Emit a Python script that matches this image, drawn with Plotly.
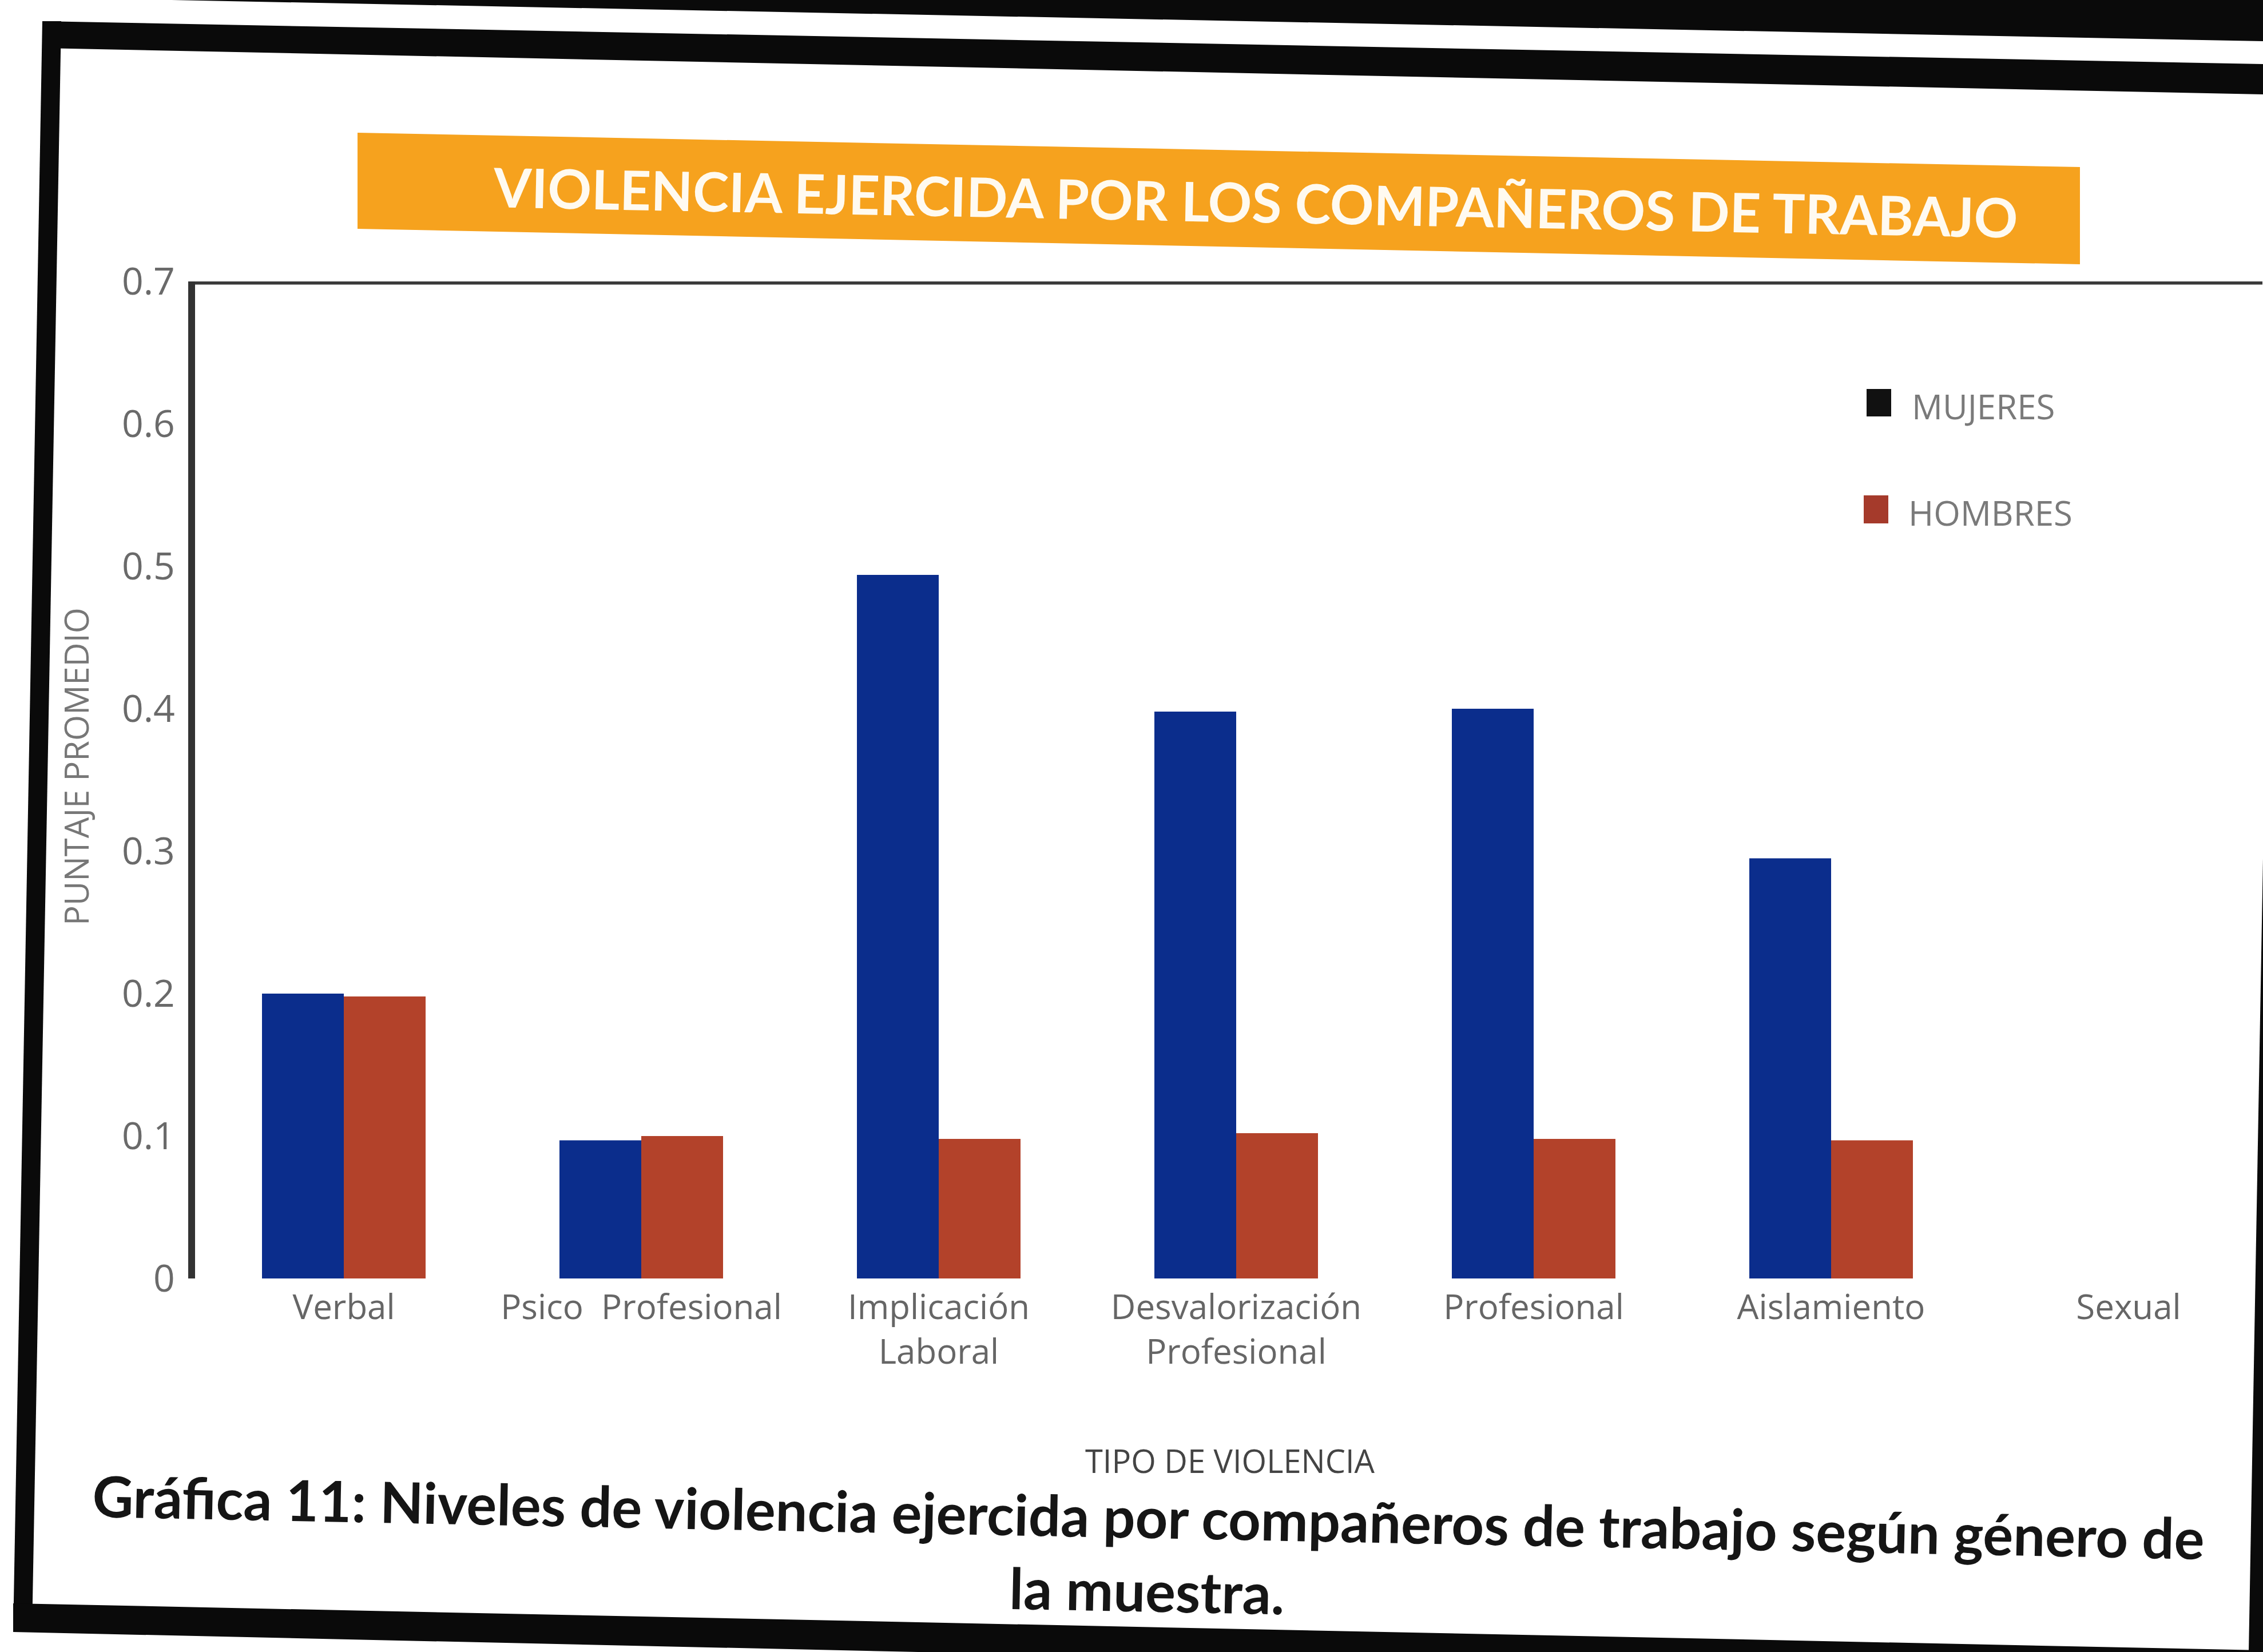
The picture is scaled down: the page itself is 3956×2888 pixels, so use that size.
import plotly.graph_objects as go

# ---- data -------------------------------------------------------------
categorias = [
    "Verbal",
    "Psico  Profesional",
    "Implicación<br>Laboral",
    "Desvalorización<br>Profesional",
    "Profesional",
    "Aislamiento",
    "Sexual",
]
mujeres = [0.200, 0.097, 0.494, 0.398, 0.400, 0.295, None]
hombres = [0.198, 0.100, 0.098, 0.102, 0.098, 0.097, None]

y_ticks = [0, 0.1, 0.2, 0.3, 0.4, 0.5, 0.6, 0.7]
y_tick_text = ["0", "0.1", "0.2", "0.3", "0.4", "0.5", "0.6", "0.7"]

titulo = "VIOLENCIA EJERCIDA POR LOS COMPAÑEROS DE TRABAJO"
eje_x = "TIPO DE VIOLENCIA"
eje_y = "PUNTAJE PROMEDIO"
leyenda = ["MUJERES", "HOMBRES"]
pie = ("Gráfica 11: Niveles de violencia ejercida por compañeros de trabajo según género de"
       "<br>la muestra.")

# ---- page geometry (pixels) -----------------------------------------
W, H = 3956, 2888
L, T = 341, 492           # left / top of plot area
PW, PH = 3614, 1743       # plot area size

BLUE = "#0b2d8c"
RED = "#b3422a"
ORANGE = "#f6a21e"


def px(x):
    return (x - L) / PW


def py(y):
    return (T + PH - y) / PH


def poly(points):
    return "M " + " L ".join(f"{px(x):.5f},{py(y):.5f}" for x, y in points) + " Z"


def label(text, x, y, size, color, family="Open Sans", xanchor="center", angle=0):
    return dict(text=text, x=px(x), y=py(y), xref="paper", yref="paper",
                xanchor=xanchor, yanchor="middle", showarrow=False,
                textangle=angle, font=dict(family=family, size=size, color=color))


fig = go.Figure()
fig.add_bar(x=categorias, y=mujeres, name=leyenda[0], marker_color=BLUE,
            marker_line_width=0, showlegend=False)
fig.add_bar(x=categorias, y=hombres, name=leyenda[1], marker_color=RED,
            marker_line_width=0, showlegend=False)

shapes = []
# outer page frame
frame = [
    [(300, 0), (3956, 0), (3956, 72)],
    [(74, 37), (3956, 112), (3956, 165), (74, 84)],
    [(74, 37), (107, 37), (56, 2853), (23, 2853)],
    [(23, 2803), (3956, 2885), (3956, 2940), (23, 2853)],
    [(3931, 2888), (3964, 2888), (3989, 1500), (3956, 1500)],
]
for pts in frame:
    shapes.append(dict(type="path", xref="paper", yref="paper", path=poly(pts),
                       fillcolor="#0a0a0a", line=dict(width=0), layer="above"))

# orange title band
shapes.append(dict(type="path", xref="paper", yref="paper",
                   path=poly([(625, 232), (3636, 292), (3636, 462), (625, 400)]),
                   fillcolor=ORANGE, line=dict(width=0), layer="below"))

# top border of the plot area
shapes.append(dict(type="line", xref="paper", yref="y", x0=0, x1=1, y0=0.7, y1=0.7,
                   line=dict(color="#3a3a3a", width=11)))

# legend swatches
shapes.append(dict(type="rect", xref="paper", yref="paper",
                   x0=px(3263), x1=px(3306), y0=py(728), y1=py(680),
                   fillcolor="#111111", line=dict(width=0)))
shapes.append(dict(type="rect", xref="paper", yref="paper",
                   x0=px(3258), x1=px(3301), y0=py(915), y1=py(866),
                   fillcolor="#a53a2b", line=dict(width=0)))

annotations = [
    label(f"<b>{titulo}</b>", 2195, 352, 95, "#fffaf0", family="Lato", angle=1.15),
    label(eje_y, 132, 1340, 58, "#777777", angle=-90),
    label(eje_x, 2150, 2553, 56, "#444444"),
    label(f"<b>{pie}</b>", 2006, 2715, 99, "#151515", family="Lato", angle=1.15),
    label(leyenda[0], 3340, 710, 60, "#7a7a7a", xanchor="left"),
    label(leyenda[1], 3334, 896, 60, "#7a7a7a", xanchor="left"),
]

fig.update_layout(
    width=W, height=H,
    margin=dict(l=L, r=W - L - PW, t=T, b=H - T - PH, pad=0),
    paper_bgcolor="white", plot_bgcolor="white",
    barmode="group", bargap=0.45, bargroupgap=0,
    shapes=shapes, annotations=annotations,
    showlegend=False,
)
fig.update_xaxes(
    range=[-0.5, 6.45], showline=False, showgrid=False, zeroline=False,
    ticks="", ticklabelstandoff=10,
    tickfont=dict(family="Open Sans", size=60, color="#666666"),
)
fig.update_yaxes(
    range=[0, 0.7], tickvals=y_ticks, ticktext=y_tick_text,
    showline=True, linecolor="#333333", linewidth=12,
    showgrid=False, zeroline=False, ticks="", ticklabelstandoff=10,
    tickfont=dict(family="Open Sans", size=66, color="#6a6a6a"),
)

fig.write_html("out.html")
